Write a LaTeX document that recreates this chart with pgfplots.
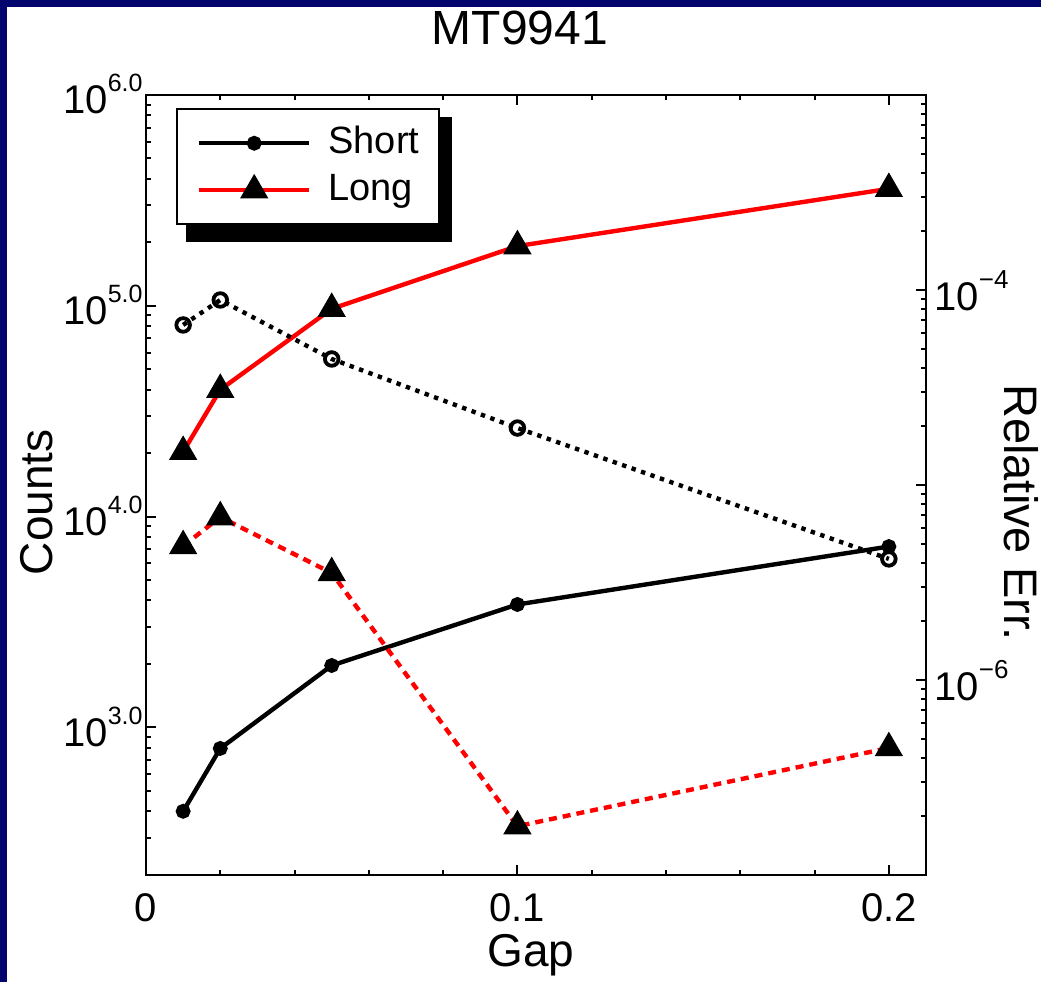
\documentclass[border=0pt]{standalone}
\usepackage{fontspec}
\setmainfont{Liberation Sans}
\usepackage{pgfplots}
\pgfplotsset{compat=1.18}
\definecolor{navy}{RGB}{4,4,110}
\newcommand\tl[1]{10\raisebox{11pt}{\fontsize{12.5}{12.5}\selectfont #1}}
\newcommand\tr[1]{10\raisebox{11pt}{\fontsize{13}{13}\selectfont #1}}
\begin{document}
\begin{tikzpicture}[x=0.5pt,y=0.5pt]
\fill[navy] (0,0) rectangle (1041,982);
\fill[white] (7,0) rectangle (1041,975);
\fill[black] (186,740) rectangle (452,865);
\begin{axis}[
  at={(73pt,53.5pt)}, anchor=south west,
  scale only axis, width=390pt, height=390pt,
  xmin=0, xmax=0.21, ymode=log, ymin=199.5, ymax=1e6,
  xtick={0,0.1,0.2}, xticklabels={0,0.1,0.2},
  minor xtick={0.02,0.04,0.06,0.08,0.12,0.14,0.16,0.18},
  ytick={1e3,1e4,1e5,1e6},
  yticklabels={\tl{3.0},\tl{4.0},\tl{5.0},\tl{6.0}},
  minor ytick={300,400,500,600,700,800,900,2000,3000,4000,5000,6000,7000,8000,9000,2e4,3e4,4e4,5e4,6e4,7e4,8e4,9e4,2e5,3e5,4e5,5e5,6e5,7e5,8e5,9e5},
  ytick pos=left, xtick pos=both, tick align=inside,
  major tick length=5pt, minor tick length=2.5pt,
  every tick/.style={line width=1pt, black},
  axis line style={line width=1.2pt},
  tick label style={font=\fontsize{20}{20}\selectfont},
  xticklabel style={inner sep=0pt, yshift=-9pt},
  yticklabel style={anchor=base east, inner sep=1.5pt, yshift=-9.5pt},
  title={MT9941},
  title style={font=\fontsize{24}{24}\selectfont, at={(axis description cs:0.4795,1.0705)}, anchor=center},
  xlabel={Gap},
  xlabel style={font=\fontsize{23}{23}\selectfont, at={(axis description cs:0.4936,-0.1167)}, anchor=base},
  ylabel={Counts},
  ylabel style={font=\fontsize{23}{23}\selectfont, at={(axis description cs:-0.1205,0.478)}, anchor=base},
  legend cell align=left,
  legend image code/.code={\draw[mark repeat=2,mark phase=2,#1] plot coordinates {(0pt,0pt) (27.5pt,0pt) (55pt,0pt)};},
  legend style={at={(axis description cs:0.0385,0.983)}, anchor=north west,
    draw=black, line width=1pt, fill=white,
    inner xsep=10pt, inner ysep=8pt, row sep=5.5pt, column sep=8.5pt,
    font=\fontsize{19}{19}\selectfont,
    nodes={inner sep=0pt, text height=14pt, text depth=4pt}},
]
\addplot[black, line width=2.2pt, mark=*, mark size=2.6pt] coordinates {
  (0.01,400) (0.02,795) (0.05,1967) (0.1,3830) (0.2,7210)};
\addlegendentry{Short}
\addplot[red, line width=2.2pt, mark=triangle*, mark size=6pt, mark options={black, fill=black, solid}] coordinates {
  (0.01,20300) (0.02,40000) (0.05,96800) (0.1,192000) (0.2,359000)};
\addlegendentry{Long\hspace{1pt}}
\end{axis}
\begin{axis}[
  at={(73pt,53.5pt)}, anchor=south west,
  scale only axis, width=390pt, height=390pt,
  xmin=0, xmax=0.21, ymode=log, ymin=1e-7, ymax=1e-3,
  axis x line=none, axis y line*=right, tick align=inside,
  ytick={1e-6,1e-5,1e-4},
  yticklabels={\tr{−6},{},\tr{−4}},
  minor ytick={2e-7,3e-7,4e-7,5e-7,6e-7,7e-7,8e-7,9e-7,2e-6,3e-6,4e-6,5e-6,6e-6,7e-6,8e-6,9e-6,2e-5,3e-5,4e-5,5e-5,6e-5,7e-5,8e-5,9e-5,2e-4,3e-4,4e-4,5e-4,6e-4,7e-4,8e-4,9e-4},
  major tick length=5pt, minor tick length=2.5pt,
  every tick/.style={line width=1pt, black},
  axis line style={line width=1.2pt},
  tick label style={font=\fontsize{20}{20}\selectfont},
  yticklabel style={anchor=base west, inner sep=0pt, xshift=4pt, yshift=-10pt},
  ylabel={Relative Err.},
  ylabel style={font=\fontsize{23.5}{23.5}\selectfont, at={(axis description cs:1.101,0.465)}, anchor=base, rotate=180},
]
\addplot[black, line width=2.2pt, dash pattern=on 2.2pt off 2.8pt, mark=o, mark size=3.4pt, mark options={solid, line width=1.9pt}] coordinates {
  (0.01,6.62e-5) (0.02,8.89e-5) (0.05,4.43e-5) (0.1,1.96e-5) (0.2,4.18e-6)};
\addplot[red, line width=2.2pt, dash pattern=on 4pt off 3pt, mark=triangle*, mark size=6pt, mark options={black, fill=black, solid}] coordinates {
  (0.01,4.87e-6) (0.02,6.85e-6) (0.05,3.54e-6) (0.1,1.78e-7) (0.2,4.48e-7)};
\end{axis}
\pgfresetboundingbox
\useasboundingbox (0,0) rectangle (1041,982);
\end{tikzpicture}
\end{document}
